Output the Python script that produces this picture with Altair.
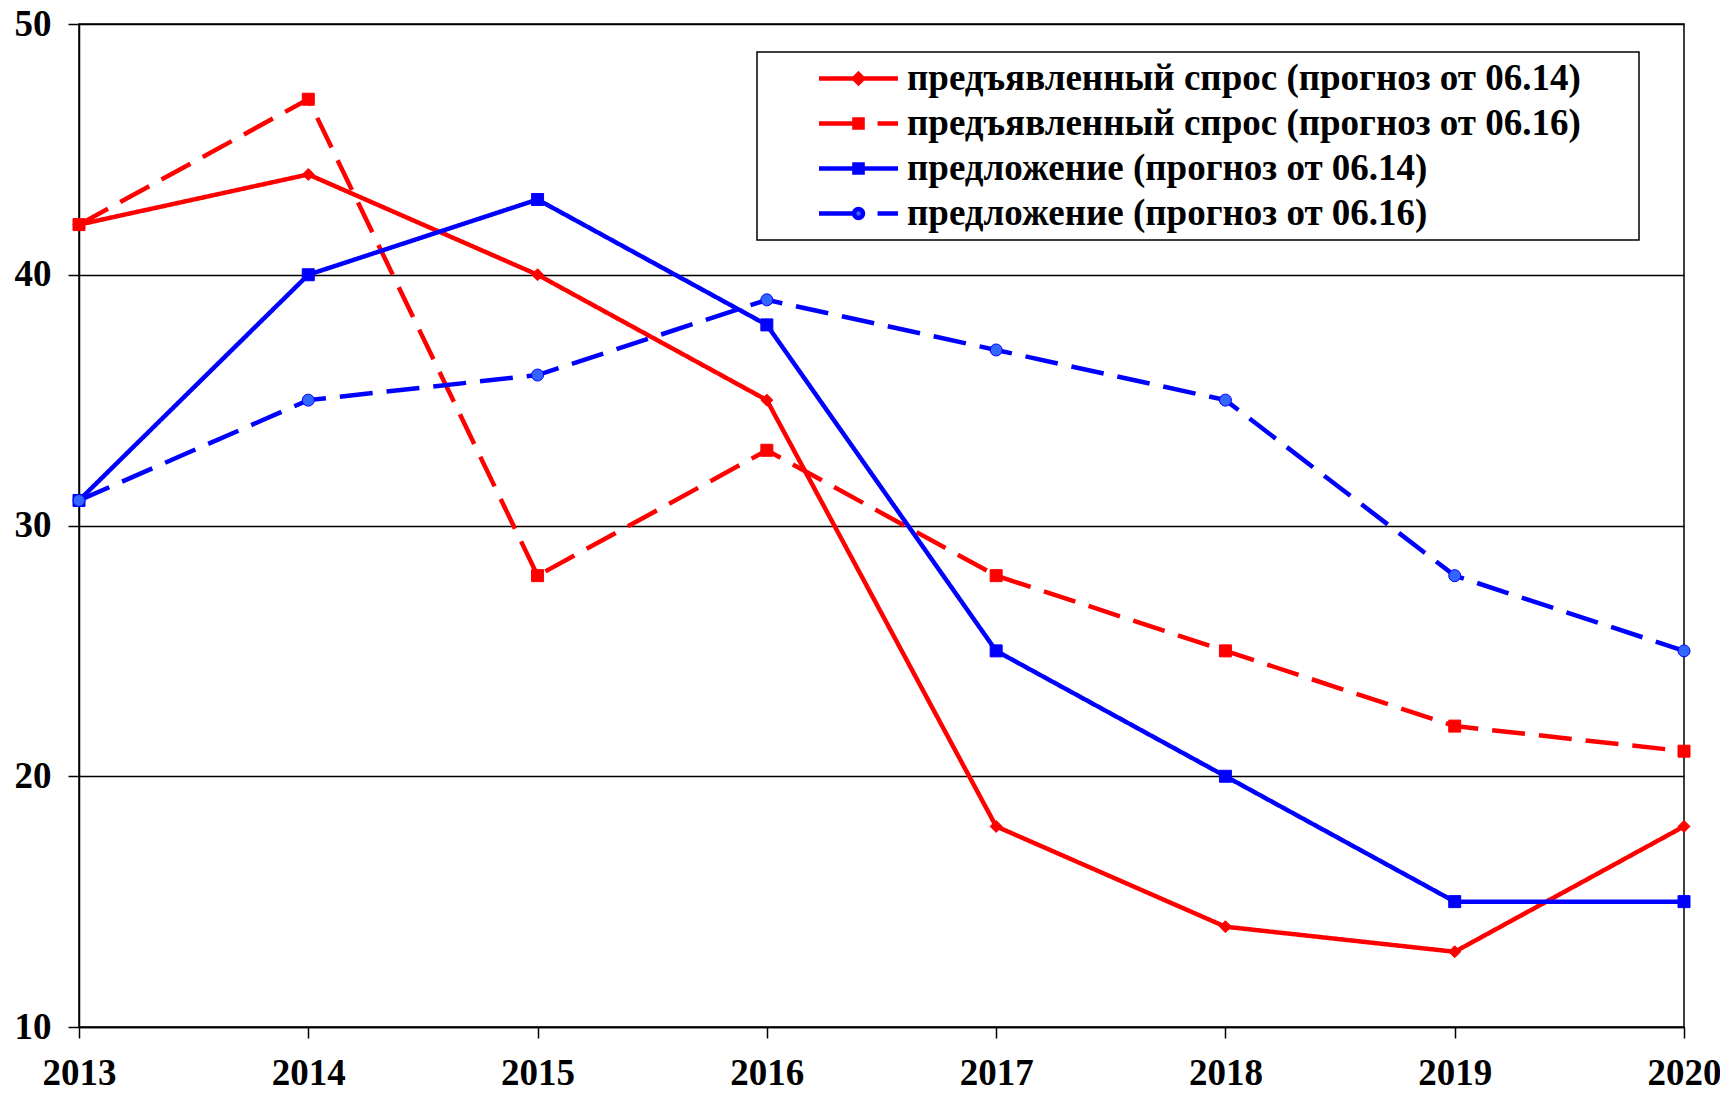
import altair as alt
import pandas as pd

years = [2013, 2014, 2015, 2016, 2017, 2018, 2019, 2020]
series_names = [
    "предъявленный спрос (прогноз от 06.14)",
    "предъявленный спрос (прогноз от 06.16)",
    "предложение (прогноз от 06.14)",
    "предложение (прогноз от 06.16)",
]
demand_0614 = [42, 44, 40, 35, 18, 14, 13, 18]
demand_0616 = [42, 47, 28, 33, 28, 25, 22, 21]
supply_0614 = [31, 40, 43, 38, 25, 20, 15, 15]
supply_0616 = [31, 35, 36, 39, 37, 35, 28, 25]
y_ticks = [10, 20, 30, 40, 50]

line_colors = ["#FF0000", "#FF0000", "#0000FF", "#0000FF"]
fill_colors = ["#FF0000", "#FF0000", "#0000FF", "#3366FF"]
dashes = [[1, 0], [33, 14], [1, 0], [33, 14]]
marker_shapes = ["diamond", "square", "square", "circle"]

rows = []
for name, vals in zip(series_names, [demand_0614, demand_0616, supply_0614, supply_0616]):
    for yr, v in zip(years, vals):
        rows.append({"year": yr, "value": v, "series": name})
df = pd.DataFrame(rows)

# legend symbols: line + marker drawn as one custom path (unit = 15 px)
L = 2.633
dia = "M0,-0.3L0.3,0L0,0.3L-0.3,0Z"
sq = "M-0.27,-0.27H0.27V0.27H-0.27Z"
r = 0.3
circ = f"M{-r},0A{r},{r} 0 1,0 {r},0A{r},{r} 0 1,0 {-r},0Z"
legend_paths = [
    f"M{-L},0H{L}" + dia,
    f"M{-L},0H-0.4M1.27,0H{L}" + sq,
    f"M{-L},0H{L}" + sq,
    f"M{-L},0H-0.4M1.27,0H{L}" + circ,
]

x_enc = alt.X("year:Q", scale=alt.Scale(domain=[2013, 2020], nice=False),
              axis=alt.Axis(values=years, format="d", grid=False, title=None,
                            labelPadding=17, labelFlush=False))
y_enc = alt.Y("value:Q", scale=alt.Scale(domain=[10, 50], nice=False),
              axis=alt.Axis(values=y_ticks, title=None, labelPadding=17, grid=True))

lines = alt.Chart(df).mark_line(strokeWidth=4.5).encode(
    x=x_enc, y=y_enc,
    color=alt.Color("series:N", scale=alt.Scale(domain=series_names, range=line_colors), legend=None),
    strokeDash=alt.StrokeDash("series:N", scale=alt.Scale(domain=series_names, range=dashes), legend=None),
    detail="series:N",
)

points = alt.Chart(df).mark_point(filled=True, size=144, opacity=1, strokeWidth=1).encode(
    x=x_enc, y=y_enc,
    fill=alt.Fill("series:N", scale=alt.Scale(domain=series_names, range=fill_colors), legend=None),
    stroke=alt.Stroke("series:N", scale=alt.Scale(domain=series_names, range=line_colors), legend=None),
    shape=alt.Shape("series:N", scale=alt.Scale(domain=series_names, range=marker_shapes), legend=None),
)

leg = alt.Legend(
    title="\u00a0", titleOrient="right", titlePadding=50, titleColor="white", titleFontSize=8,
    orient="none", legendX=678, legendY=28,
    symbolSize=900, symbolStrokeWidth=4.5, symbolOffset=75, labelOffset=30,
    labelFont="Liberation Serif", labelFontWeight="bold", labelFontSize=37, labelColor="black",
    labelLimit=2000, rowPadding=7, padding=8,
    strokeColor="black", fillColor="white",
)

legend_layer = alt.Chart(df).transform_filter("datum.value < 0").mark_point(
    filled=True, opacity=1, strokeWidth=4.5
).encode(
    x=x_enc, y=y_enc,
    fill=alt.Fill("series:N", scale=alt.Scale(domain=series_names, range=fill_colors), legend=leg),
    stroke=alt.Stroke("series:N", scale=alt.Scale(domain=series_names, range=line_colors), legend=leg),
    shape=alt.Shape("series:N", scale=alt.Scale(domain=series_names, range=legend_paths), legend=leg),
)

chart = alt.layer(lines, points, legend_layer).resolve_scale(
    fill="independent", stroke="independent", shape="independent"
).properties(
    width=1605, height=1003,
    autosize=alt.AutoSizeParams(type="none"),
    padding={"left": 71, "top": 16, "right": 36, "bottom": 60},
).configure_view(
    stroke="black", strokeWidth=1.5
).configure_legend(
    strokeWidth=1.5
).configure_axis(
    labelFont="Liberation Serif", labelFontWeight="bold", labelFontSize=37, labelColor="black",
    tickColor="black", tickSize=11, tickWidth=1.5,
    domainColor="black", domainWidth=1.5,
    gridColor="black", gridWidth=1.5, gridOpacity=1,
)

chart.save("out.html", embed_options={"renderer": "svg", "actions": False})
